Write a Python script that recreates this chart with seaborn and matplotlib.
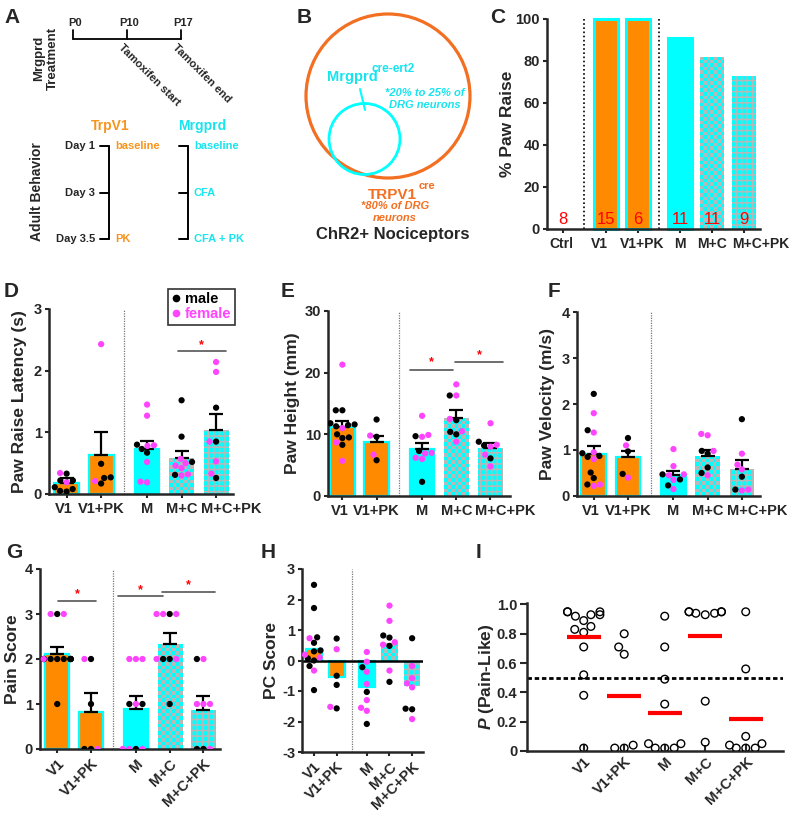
import numpy as np
import pandas as pd
import matplotlib
matplotlib.use('Agg')
import matplotlib.pyplot as plt
import seaborn as sns
from matplotlib.patches import Circle
from matplotlib.lines import Line2D
from matplotlib.colors import ListedColormap
from matplotlib.transforms import ScaledTranslation

# --- Data ---
groups = ['V1', 'V1+PK', 'M', 'M+C', 'M+C+PK']

c_groups = ['Ctrl', 'V1', 'V1+PK', 'M', 'M+C', 'M+C+PK']
c_raise = [0, 100, 100, 91, 82, 73]
c_n = [8, 15, 6, 11, 11, 9]

d_mean = [0.18, 0.64, 0.73, 0.58, 1.04]
d_sem = [0.08, 0.36, 0.13, 0.12, 0.26]
d_male = [[0.33, 0.22, 0.22, 0.11, 0.08, 0.05, 0.04], [0.49, 0.26, 0.17, 0.27],
          [0.80, 0.73, 0.67], [1.52, 0.93, 0.52, 0.31], [1.40, 0.85, 0.26]]
d_female = [[0.34, 0.19], [2.43, 0.21], [1.45, 1.27, 0.79, 0.78, 0.52, 0.19, 0.20],
            [0.57, 0.50, 0.46, 0.42, 0.32, 0.30], [2.14, 1.98, 0.85, 0.53, 0.33]]

e_mean = [11.2, 8.8, 7.7, 12.7, 7.8]
e_sem = [1.0, 1.0, 0.9, 1.2, 0.8]
e_male = [[13.9, 13.9, 11.8, 11.6, 11.5, 9.5, 9.4, 10.0, 8.3, 11.3], [12.4, 9.6, 5.8],
          [9.7, 7.3, 2.3], [16.3, 12.3, 10.4, 10.0], [8.8, 8.2, 6.1]]
e_female = [[21.3, 11.0, 8.7, 5.7], [9.8, 6.7], [13.0, 9.9, 9.6, 7.0, 6.9, 6.2, 6.0],
            [18.1, 16.3, 12.5, 10.5, 8.8], [11.8, 8.3, 8.0, 6.7, 4.8]]

f_mean = [0.92, 0.85, 0.45, 0.88, 0.58]
f_sem = [0.17, 0.13, 0.10, 0.12, 0.20]
f_male = [[2.22, 1.43, 0.93, 0.87, 0.85, 0.51, 0.39, 0.25], [1.26, 0.97, 0.48],
          [0.47, 0.36, 0.23], [0.98, 0.92, 0.62, 0.50], [1.67, 0.42, 0.14]]
f_female = [[1.80, 1.38, 0.95, 0.80, 0.22, 0.25], [1.10, 0.40], [1.02, 0.65, 0.47, 0.45, 0.35, 0.15],
            [1.35, 1.32, 0.98, 0.45], [0.92, 0.68, 0.58, 0.12, 0.14]]

g_mean = [2.12, 0.83, 0.89, 2.33, 0.87]
g_sem = [0.15, 0.41, 0.29, 0.25, 0.31]
g_male = [[3, 2, 2, 2, 2, 2, 2, 2, 2, 2, 2, 1], [2, 1, 0, 0], [1, 1, 0], [3, 2, 2, 1], [2, 0, 0]]
g_female = [[3, 3, 2], [2, 0], [2, 2, 2, 1, 0, 0, 0], [3, 3, 3, 2, 2], [2, 1, 1, 1, 0]]

h_mean = [0.38, -0.53, -0.86, 0.58, -0.83]
h_male = [[2.48, 1.72, 0.76, 0.58, 0.33, 0.30, 0.07, 0.0, -0.18, -0.97], [0.72, -0.50, -0.80, -1.57],
          [-0.22, -1.03, -2.08], [0.82, 0.75, 0.48, -0.70], [0.73, -1.58, -1.60]]
h_female = [[0.73, 0.19, 0.10, -0.33], [0.37, -1.52], [0.28, -0.04, -0.37, -0.77, -1.30, -1.55, -1.65],
            [1.80, 1.30, 0.60, 0.52, -0.33], [-0.18, -0.58, -0.75, -0.88, -1.92]]

i_vals = [[0.95, 0.95, 0.95, 0.93, 0.92, 0.93, 0.89, 0.85, 0.83, 0.81, 0.71, 0.52, 0.38, 0.02],
          [0.80, 0.71, 0.66, 0.04, 0.02, 0.02],
          [0.92, 0.71, 0.49, 0.32, 0.05, 0.05, 0.02, 0.02, 0.02],
          [0.95, 0.95, 0.95, 0.95, 0.94, 0.94, 0.93, 0.34, 0.06],
          [0.95, 0.56, 0.10, 0.05, 0.04, 0.02, 0.02, 0.02]]
i_mean = [0.776, 0.378, 0.26, 0.783, 0.22]

# --- Style ---
ORANGE = '#ff8a00'
CYAN = '#00ffff'
CYAN_TXT = '#18e4ee'
ORANGE_TXT = '#f7941d'
ORANGE_RING = '#f36f21'
PINK = '#ff44ff'
HATCH_GRAY = '#b8b8b8'
SEX_PAL = {'male': 'black', 'female': PINK}
KINDS = ['V', 'V', 'M', 'MC', 'MCP']

sns.set_theme(style='ticks')
plt.rcParams.update({
    'font.family': ['Liberation Sans', 'DejaVu Sans'],
    'font.weight': 'bold',
    'axes.labelweight': 'bold',
    'axes.unicode_minus': False,
    'axes.linewidth': 1.8,
    'xtick.major.width': 1.5,
    'ytick.major.width': 1.5,
    'xtick.major.size': 3,
    'ytick.major.size': 3,
    'xtick.major.pad': 2.5,
    'ytick.major.pad': 2,
    'xtick.labelsize': 10.5,
    'ytick.labelsize': 10.5,
    'axes.labelsize': 12.5,
    'hatch.linewidth': 1.1,
    'mathtext.fontset': 'custom',
    'mathtext.it': 'Liberation Sans:bold:italic',
    'mathtext.rm': 'Liberation Sans:bold',
})

W, H = 800, 816
fig = plt.figure(figsize=(8, 8.16), dpi=100)
fig.patch.set_facecolor('white')
checker_cmap = ListedColormap([CYAN, HATCH_GRAY])


def px_axes(l, t, r, b):
    return fig.add_axes([l / W, 1 - b / H, (r - l) / W, (b - t) / H])


def letter(x, y, s):
    fig.text(x / W, 1 - y / H, s, fontsize=15, fontweight='bold', va='top', ha='left')


def style_bars(ax, kinds, lw):
    for p, k in zip(ax.patches, kinds):
        p.set_clip_on(False)
        if k == 'V':
            p.set_facecolor(ORANGE)
            p.set_edgecolor(CYAN)
            p.set_linewidth(lw)
        elif k in ('M', 'MC'):
            p.set_facecolor(CYAN)
            p.set_edgecolor(CYAN)
            p.set_linewidth(lw if k == 'M' else 0)
        elif k == 'MCP':
            p.set_facecolor(CYAN)
            p.set_edgecolor(HATCH_GRAY)
            p.set_hatch('+++')
            p.set_linewidth(0)
        else:
            p.set_visible(False)


def checker_fill(ax, kinds, cell=3.6):
    # checkerboard fill for the M+C bars, clipped to the bar
    for p, k in zip(list(ax.patches), kinds):
        if k != 'MC':
            continue
        x0, y0, w, h = p.get_x(), p.get_y(), p.get_width(), p.get_height()
        (a0, b0), (a1, b1) = ax.transData.transform([(x0, y0), (x0 + w, y0 + h)])
        nx = max(1, int(round(abs(a1 - a0) / cell)))
        ny = max(1, int(round(abs(b1 - b0) / cell)))
        board = np.indices((ny, nx)).sum(axis=0) % 2
        im = ax.imshow(board, extent=(x0, x0 + w, y0, y0 + h), cmap=checker_cmap,
                       interpolation='nearest', aspect='auto', origin='lower', zorder=1.2)
        im.set_clip_path(p)


def shift_labels(ax, shifts):
    for lab, dx in zip(ax.get_xticklabels(), shifts):
        if dx:
            lab.set_transform(lab.get_transform() + ScaledTranslation(dx / 100, 0, fig.dpi_scale_trans))


def points_frame(male, female):
    rows = []
    for i, g in enumerate(groups):
        rows += [(xpos[i], v, 'male') for v in male[i]]
        rows += [(xpos[i], v, 'female') for v in female[i]]
    return pd.DataFrame(rows, columns=['x', 'value', 'sex'])


def sig(ax, x1, x2, y, dy):
    ax.plot([x1, x2], [y, y], color='#555555', lw=1.2)
    ax.text((x1 + x2) / 2, y + dy, '*', color='red', ha='center', va='center', fontsize=9)


# category positions with a gap between the TrpV1 and Mrgprd groups
idx = np.arange(5)
xpos = idx + 0.33 * (idx >= 2)
idx6 = np.arange(6)
c_pos = idx6 + 0.33 * (idx6 >= 1) + 0.33 * (idx6 >= 3)


def bar_panel(rect, xlim, means, sems, male, female, ylim, yticks, ylabel, lab_x, rot=0):
    ax = px_axes(*rect)
    sns.barplot(x=xpos, y=means, native_scale=True, orient='x', width=0.72,
                errorbar=None, color=CYAN, ax=ax, zorder=1)
    style_bars(ax, KINDS, 1.6)
    if sems is not None:
        ax.errorbar(xpos, means, yerr=[np.zeros(len(means)), sems], fmt='none',
                    ecolor='black', elinewidth=1.6, capsize=5, capthick=1.6, zorder=2)
    df = points_frame(male, female)
    sns.swarmplot(data=df, x='x', y='value', hue='sex', palette=SEX_PAL, native_scale=True,
                  orient='x', size=4.5, legend=False, ax=ax, zorder=3, warn_thresh=1)
    ax.axvline((xpos[1] + xpos[2]) / 2, color='#777777', ls=(0, (1, 1)), lw=0.9, zorder=0)
    ax.set_xlim(*xlim)
    ax.set_ylim(*ylim)
    checker_fill(ax, KINDS)
    ax.set_xlim(*xlim)
    ax.set_ylim(*ylim)
    ax.set_yticks(yticks)
    ax.set_xticks(xpos)
    if rot:
        ax.set_xticklabels(groups, rotation=rot, ha='right', rotation_mode='anchor')
    else:
        ax.set_xticklabels(groups)
        shift_labels(ax, [-3, 0, 0, 0, 15])
    ax.set_xlabel('')
    ax.set_ylabel(ylabel)
    ax.yaxis.set_label_coords(lab_x, 0.5)
    sns.despine(ax=ax)
    return ax


# --- A: timeline ---
axA = px_axes(0, 0, 260, 285)
axA.set_xlim(0, 260)
axA.set_ylim(285, 0)
axA.axis('off')
axA.plot([73, 181], [39, 39], color='black', lw=1.3)
for x, lab in zip([73, 127, 181], ['P0', 'P10', 'P17']):
    axA.plot([x, x], [30, 39], color='black', lw=1.3)
    axA.text(x + 2, 28, lab, ha='center', va='bottom', fontsize=8)
axA.text(124, 42, 'Tamoxifen start', rotation=-45, rotation_mode='anchor', ha='left', va='top', fontsize=8)
axA.text(178, 42, 'Tamoxifen end', rotation=-45, rotation_mode='anchor', ha='left', va='top', fontsize=8)
axA.text(46, 58, 'Mrgprd\nTreatment', rotation=90, ha='center', va='center', fontsize=9.5, linespacing=1.1)
axA.text(37, 192, 'Adult Behavior', rotation=90, ha='center', va='center', fontsize=10)
axA.text(110, 126, 'TrpV1', color=ORANGE_TXT, ha='center', va='center', fontsize=10)
axA.text(202, 126, 'Mrgprd', color=CYAN_TXT, ha='center', va='center', fontsize=10)
for y, lab in zip([146, 193, 239], ['Day 1', 'Day 3', 'Day 3.5']):
    axA.text(95, y, lab, ha='right', va='center', fontsize=8)
for bx in [109, 188]:
    axA.plot([bx, bx], [146, 239], color='black', lw=1.4)
    for y in [146, 193, 239]:
        axA.plot([bx - 9, bx], [y, y], color='black', lw=1.4)
axA.text(115, 146, 'baseline', color=ORANGE_TXT, va='center', fontsize=8)
axA.text(115, 239, 'PK', color=ORANGE_TXT, va='center', fontsize=8)
for y, lab in zip([146, 193, 239], ['baseline', 'CFA', 'CFA + PK']):
    axA.text(194, y, lab, color=CYAN_TXT, va='center', fontsize=8)

# --- B: venn ---
axB = px_axes(260, 0, 520, 285)
axB.set_xlim(260, 520)
axB.set_ylim(285, 0)
axB.axis('off')
axB.add_patch(Circle((388, 96), 82, fill=False, ec=ORANGE_RING, lw=2.3))
axB.add_patch(Circle((364.5, 139), 35.5, fill=False, ec=CYAN, lw=2.0))
axB.plot([360, 365], [89, 110], color=CYAN, lw=1.5)
axB.text(327, 81, 'Mrgprd', color=CYAN_TXT, ha='left', va='baseline', fontsize=10.5)
axB.text(372, 72, 'cre-ert2', color=CYAN_TXT, ha='left', va='baseline', fontsize=8.5)
axB.text(425, 99, '*20% to 25% of\nDRG neurons', color=CYAN_TXT, ha='center', va='center',
         fontsize=8, style='italic', linespacing=1.15)
axB.text(368, 199, 'TRPV1', color=ORANGE_RING, ha='left', va='baseline', fontsize=11)
axB.text(419, 189, 'cre', color=ORANGE_RING, ha='left', va='baseline', fontsize=8)
axB.text(395, 212, '*80% of DRG\nneurons', color=ORANGE_RING, ha='center', va='center',
         fontsize=8, style='italic', linespacing=1.15)
axB.text(393, 235, 'ChR2+ Nociceptors', ha='center', va='center', fontsize=12)

# --- C: % paw raise ---
C_KINDS = ['none'] + KINDS
axC = px_axes(547, 19, 760, 229)
sns.barplot(x=c_pos, y=c_raise, native_scale=True, orient='x', width=0.75,
            errorbar=None, color=CYAN, ax=axC)
style_bars(axC, C_KINDS, 2.2)
for x, n in zip(c_pos, c_n):
    axC.text(x, 0.8, str(n), color='red', ha='center', va='bottom', fontsize=12,
             fontweight='normal', zorder=5)
for d in [(c_pos[0] + c_pos[1]) / 2, (c_pos[2] + c_pos[3]) / 2]:
    axC.axvline(d, color='black', ls=(0, (1, 1.5)), lw=1.2, zorder=0)
axC.set_xlim(-0.5, 6.16)
axC.set_ylim(0, 100)
checker_fill(axC, C_KINDS)
axC.set_xlim(-0.5, 6.16)
axC.set_ylim(0, 100)
axC.set_yticks(range(0, 101, 20))
axC.set_xticks(c_pos)
axC.set_xticklabels(c_groups, fontsize=10)
shift_labels(axC, [-2, -6, 5, 0, 0, 17])
axC.set_ylabel('% Paw Raise')
axC.yaxis.set_label_coords(-0.15, 0.5)
sns.despine(ax=axC)

# --- D-H ---
axD = bar_panel((49, 309, 233, 494), (-0.51, 4.82), d_mean, d_sem, d_male, d_female,
                (0, 3), [0, 1, 2, 3], 'Paw Raise Latency (s)', -0.12)
sig(axD, 3.22, 4.61, 2.32, 0.1)
handles = [Line2D([], [], marker='o', ls='none', color='black', markersize=4.5, label='male'),
           Line2D([], [], marker='o', ls='none', color=PINK, markersize=4.5, label='female')]
leg = axD.legend(handles=handles, loc='upper right', bbox_to_anchor=(1.01, 1.11), frameon=True,
                 fancybox=False, edgecolor='black', handlelength=0.6, handletextpad=0.3,
                 borderpad=0.25, labelspacing=0.05, fontsize=10.5, borderaxespad=0)
leg.get_frame().set_linewidth(1.2)
for t, c in zip(leg.get_texts(), ['black', PINK]):
    t.set_color(c)

axE = bar_panel((328, 311, 510, 496), (-0.42, 4.9), e_mean, e_sem, e_male, e_female,
                (0, 30), [0, 10, 20, 30], 'Paw Height (mm)', -0.154)
sig(axE, 1.97, 3.24, 20.5, 1.2)
sig(axE, 3.29, 4.70, 21.8, 1.0)

axF = bar_panel((577, 312, 760, 496), (-0.49, 4.86), f_mean, f_sem, f_male, f_female,
                (0, 4), [0, 1, 2, 3, 4], 'Paw Velocity (m/s)', -0.12)

axG = bar_panel((40, 569, 220, 749), (-0.51, 4.82), g_mean, g_sem, g_male, g_female,
                (0, 4), [0, 1, 2, 3, 4], 'Pain Score', -0.11, rot=45)
sig(axG, 0.03, 1.15, 3.30, 0.15)
sig(axG, 1.79, 3.14, 3.39, 0.15)
sig(axG, 3.11, 4.67, 3.50, 0.15)

axH = bar_panel((302, 569, 423, 752), (-0.53, 4.81), h_mean, None, h_male, h_female,
                (-3, 3), [-3, -2, -1, 0, 1, 2, 3], 'PC Score', -0.19, rot=45)
axH.axhline(0, color='black', lw=1.8, zorder=2.5)

# --- I: P(pain-like) ---
axI = px_axes(527, 603, 783, 751)
dfI = pd.DataFrame([(g, v) for g, vals in zip(groups, i_vals) for v in vals], columns=['group', 'value'])
sns.swarmplot(data=dfI, x='group', y='value', order=groups, size=5.5, color='black',
              ax=axI, zorder=3, warn_thresh=1)
for coll in axI.collections:
    coll.set_facecolor('none')
    coll.set_edgecolor('black')
    coll.set_linewidth(1.0)
axI.hlines(i_mean, idx - 0.42, idx + 0.42, color='red', lw=3, zorder=4)
axI.axhline(0.5, color='black', ls=(0, (1.6, 1.0)), lw=2, zorder=1)
axI.set_xlim(-1.4, 4.92)
axI.set_ylim(0, 1.01)
axI.set_yticks([0, 0.2, 0.4, 0.6, 0.8, 1.0])
axI.set_yticklabels(['0', '0.2', '0.4', '0.6', '0.8', '1.0'])
axI.set_xticks(idx)
axI.set_xticklabels(groups, rotation=45, ha='right', rotation_mode='anchor')
axI.tick_params(axis='x', direction='in', length=4)
axI.tick_params(axis='y', length=5)
axI.set_xlabel('')
axI.set_ylabel(r'$\mathit{P}$ (Pain-Like)')
axI.yaxis.set_label_coords(-0.121, 0.5)
sns.despine(ax=axI)

for x, y, s in [(4, 8, 'A'), (297, 8, 'B'), (490, 8, 'C'), (4, 282, 'D'), (281, 282, 'E'),
                (548, 282, 'F'), (6, 543, 'G'), (261, 543, 'H'), (476, 543, 'I')]:
    letter(x, y, s)

fig.savefig('out.png', dpi=100, facecolor='white')
